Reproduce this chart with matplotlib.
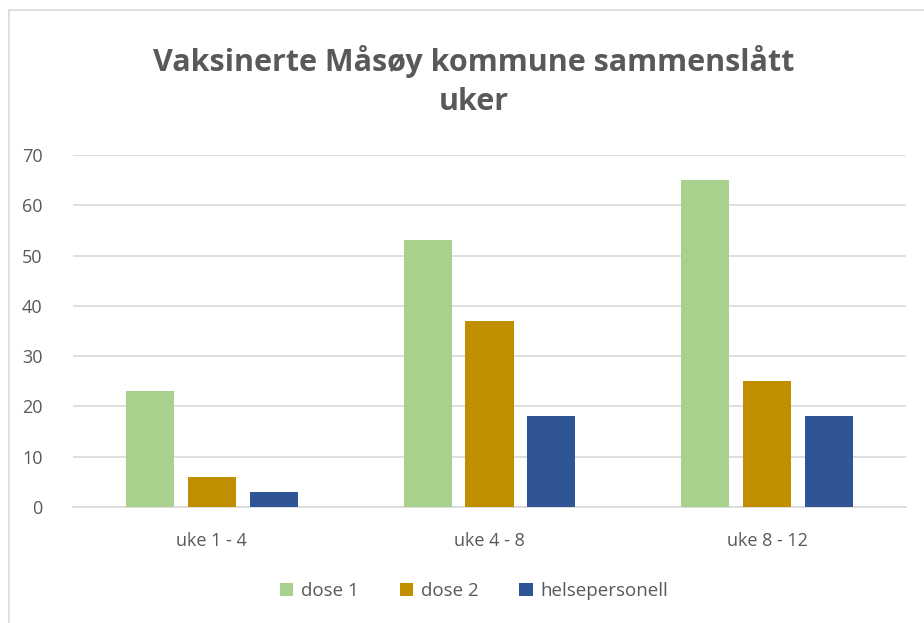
import matplotlib
matplotlib.use('Agg')

import matplotlib.pyplot as plt
import matplotlib.patches as mpatches
import numpy as np

plt.rcParams.update({
    'font.family': 'Open Sans',
})

# data
categories = ['uke 1 - 4', 'uke 4 - 8', 'uke 8 - 12']
series_names = ['dose 1', 'dose 2', 'helsepersonell']
dose1 = [23, 53, 65]
dose2 = [6, 37, 25]
helse = [3, 18, 18]
yticks = [0, 10, 20, 30, 40, 50, 60, 70]

colors = ['#A9D18E', '#BF8F00', '#2F5597']
text_col = '#595959'

fig = plt.figure(figsize=(9.24, 6.23), dpi=100)
ax = fig.add_axes([0.079, 0.1862, 0.9015, 0.565])

# chart border
fig.patches.append(mpatches.Rectangle((9 / 924, -0.1), 1.2, 1 - 10 / 623 + 0.1,
                                      transform=fig.transFigure, fill=False,
                                      edgecolor='#d9d9d9', linewidth=1.2))

x = np.arange(len(categories))
w = 0.173
step = 0.223
for i, (vals, name) in enumerate(zip([dose1, dose2, helse], series_names)):
    ax.bar(x + (i - 1) * step, vals, width=w, color=colors[i], label=name, zorder=3)

ax.set_xlim(-0.5, 2.5)
ax.set_ylim(0, 70)
ax.set_yticks(yticks)
ax.set_xticks(x)
ax.set_xticklabels(categories)
ax.tick_params(axis='both', length=0, labelsize=13, labelcolor=text_col)
ax.tick_params(axis='x', pad=18)
ax.tick_params(axis='y', pad=22)
ax.grid(axis='y', color='#d9d9d9', linewidth=1.2, zorder=0)
for s in ['top', 'right', 'left']:
    ax.spines[s].set_visible(False)
ax.spines['bottom'].set_color('#d9d9d9')
ax.spines['bottom'].set_linewidth(1.2)

fig.text(0.513, 0.87, 'Vaksinerte Måsøy kommune sammenslått\nuker', ha='center', va='center',
         fontsize=22, fontweight='bold', color=text_col, linespacing=1.4)

fig.legend(loc='center', bbox_to_anchor=(0.513, 0.051), ncol=3, frameon=False,
           fontsize=13.5, labelcolor=text_col, handlelength=0.7, handleheight=0.7,
           columnspacing=2.2, handletextpad=0.4)

plt.savefig('out.png', dpi=100)
plt.close()
